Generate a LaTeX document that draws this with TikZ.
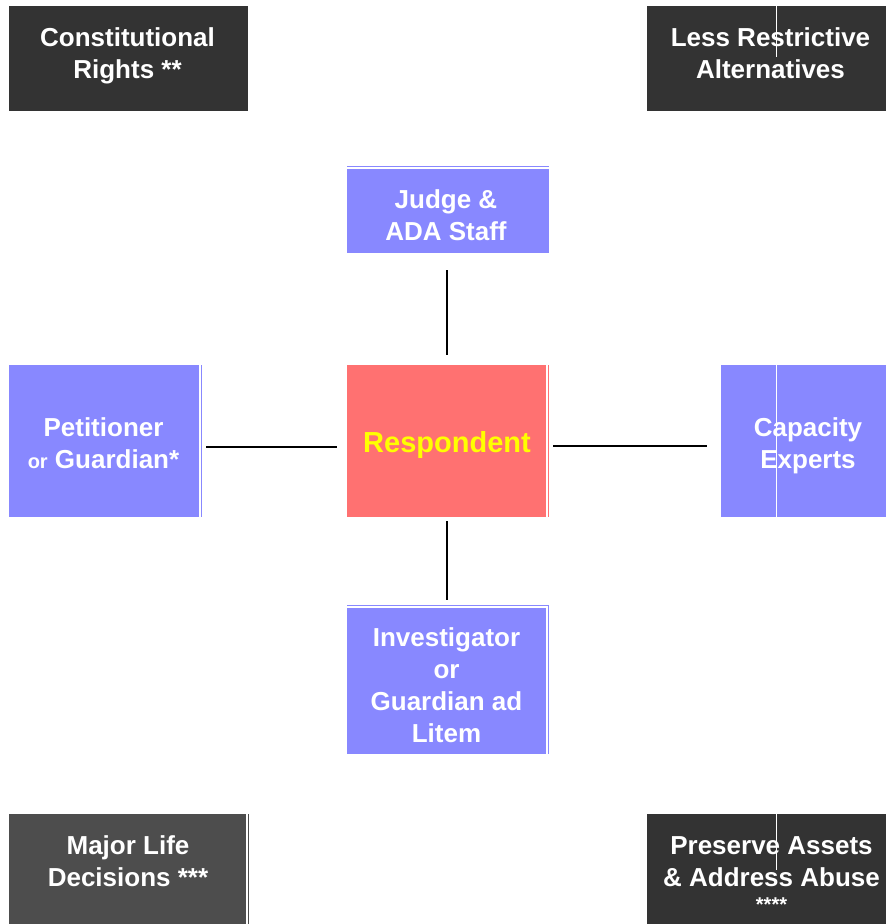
\documentclass[tikz,border=0pt]{standalone}
\usepackage{fontspec}
\usetikzlibrary{calc}
\setmainfont{Liberation Sans}
\definecolor{darkbox}{HTML}{333333}
\definecolor{midbox}{HTML}{4D4D4D}
\definecolor{bluebox}{HTML}{8888FF}
\definecolor{redbox}{HTML}{FF7171}
\definecolor{ytext}{HTML}{FFFF00}
\begin{document}
\begin{tikzpicture}[x=1pt,y=-1pt,
  box/.style={draw=none,inner sep=0pt,outer sep=0pt,anchor=north west,rectangle},
  txt/.style={text=white,font=\bfseries\fontsize{26}{32}\selectfont,align=center,inner sep=0pt,anchor=base},
  conn/.style={draw=black,line width=2pt},
  edge/.style={line width=1pt},
  seam/.style={draw=white,line width=1pt}]
\useasboundingbox (0,0) rectangle (886,924);
% boxes
\node[box,fill=darkbox,minimum width=239pt,minimum height=105pt] (cr) at (9,6) {};
\node[box,fill=darkbox,minimum width=239pt,minimum height=105pt] (lr) at (647,6) {};
\node[box,fill=bluebox,minimum width=202pt,minimum height=84pt] (judge) at (347,169) {};
\node[box,fill=bluebox,minimum width=190pt,minimum height=152pt] (pet) at (9,365) {};
\node[box,fill=redbox,minimum width=199pt,minimum height=152pt] (resp) at (347,365) {};
\node[box,fill=bluebox,minimum width=165pt,minimum height=152pt] (cap) at (721,365) {};
\node[box,fill=bluebox,minimum width=199pt,minimum height=146pt] (inv) at (347,608) {};
\node[box,fill=midbox,minimum width=237pt,minimum height=110pt] (ml) at (9,814) {};
\node[box,fill=darkbox,minimum width=239pt,minimum height=110pt] (pa) at (647,814) {};
% thin edge artefacts
\draw[edge,draw=bluebox] ([yshift=3pt]judge.north west) -- ([yshift=3pt]judge.north east);
\draw[edge,draw=bluebox] ([xshift=2pt]pet.north east) -- ([xshift=2pt]pet.south east);
\draw[edge,draw=redbox] ([xshift=2pt]resp.north east) -- ([xshift=2pt]resp.south east);
\draw[edge,draw=bluebox] ([yshift=3pt]inv.north west) -- ([xshift=2pt,yshift=3pt]inv.north east) -- ([xshift=2pt]inv.south east);
\draw[edge,draw=midbox] ([xshift=2pt]ml.north east) -- ([xshift=2pt]ml.south east);
% white seams
\coordinate (s1a) at (776,6); \coordinate (s1b) at (776,57);
\coordinate (s2a) at (776,365); \coordinate (s2b) at (776,517);
\coordinate (s3a) at (776,814); \coordinate (s3b) at (776,870);
\draw[seam] (s1a) -- (s1b);
\draw[seam] (s2a) -- (s2b);
\draw[seam] (s3a) -- (s3b);
% texts (anchor base = baseline of last line)
\node[txt] (tcr) at (127.5,78) {Constitutional\\Rights **};
\node[txt] (tlr) at (770.5,78) {Less Restrictive\\Alternatives};
\node[txt] (tjudge) at (446,240) {Judge \&\\ADA Staff};
\node[txt] (tpet) at (103.5,468) {Petitioner\\{\fontsize{20}{32}\selectfont or} Guardian*};
\node[txt,text=ytext,font=\bfseries\fontsize{29}{32}\selectfont] (tresp) at (447,452) {Respondent};
\node[txt] (tcap) at (808,468) {Capacity\\Experts};
\node[txt] (tinv) at (446.5,742) {Investigator\\or\\Guardian ad\\Litem};
\node[txt] (tml) at (128,886) {Major Life\\Decisions ***};
\node[txt] (tpa) at (771.5,911) {Preserve Assets\\\& Address Abuse\\[-7pt]{\fontsize{20}{25}\selectfont ****}};
% connectors
\draw[conn] ($(judge.south -| resp.north)+(0,17)$) -- ($(resp.north)+(0,-10)$);
\draw[conn] ([xshift=7pt,yshift=-6pt]pet.east) -- ([xshift=-10pt,yshift=-6pt]resp.west);
\draw[conn] ([xshift=7pt,yshift=-5pt]resp.east) -- ([xshift=-14pt,yshift=-5pt]cap.west);
\draw[conn] ([yshift=-4pt]resp.south) -- ([yshift=8pt]inv.north);
\end{tikzpicture}
\end{document}
